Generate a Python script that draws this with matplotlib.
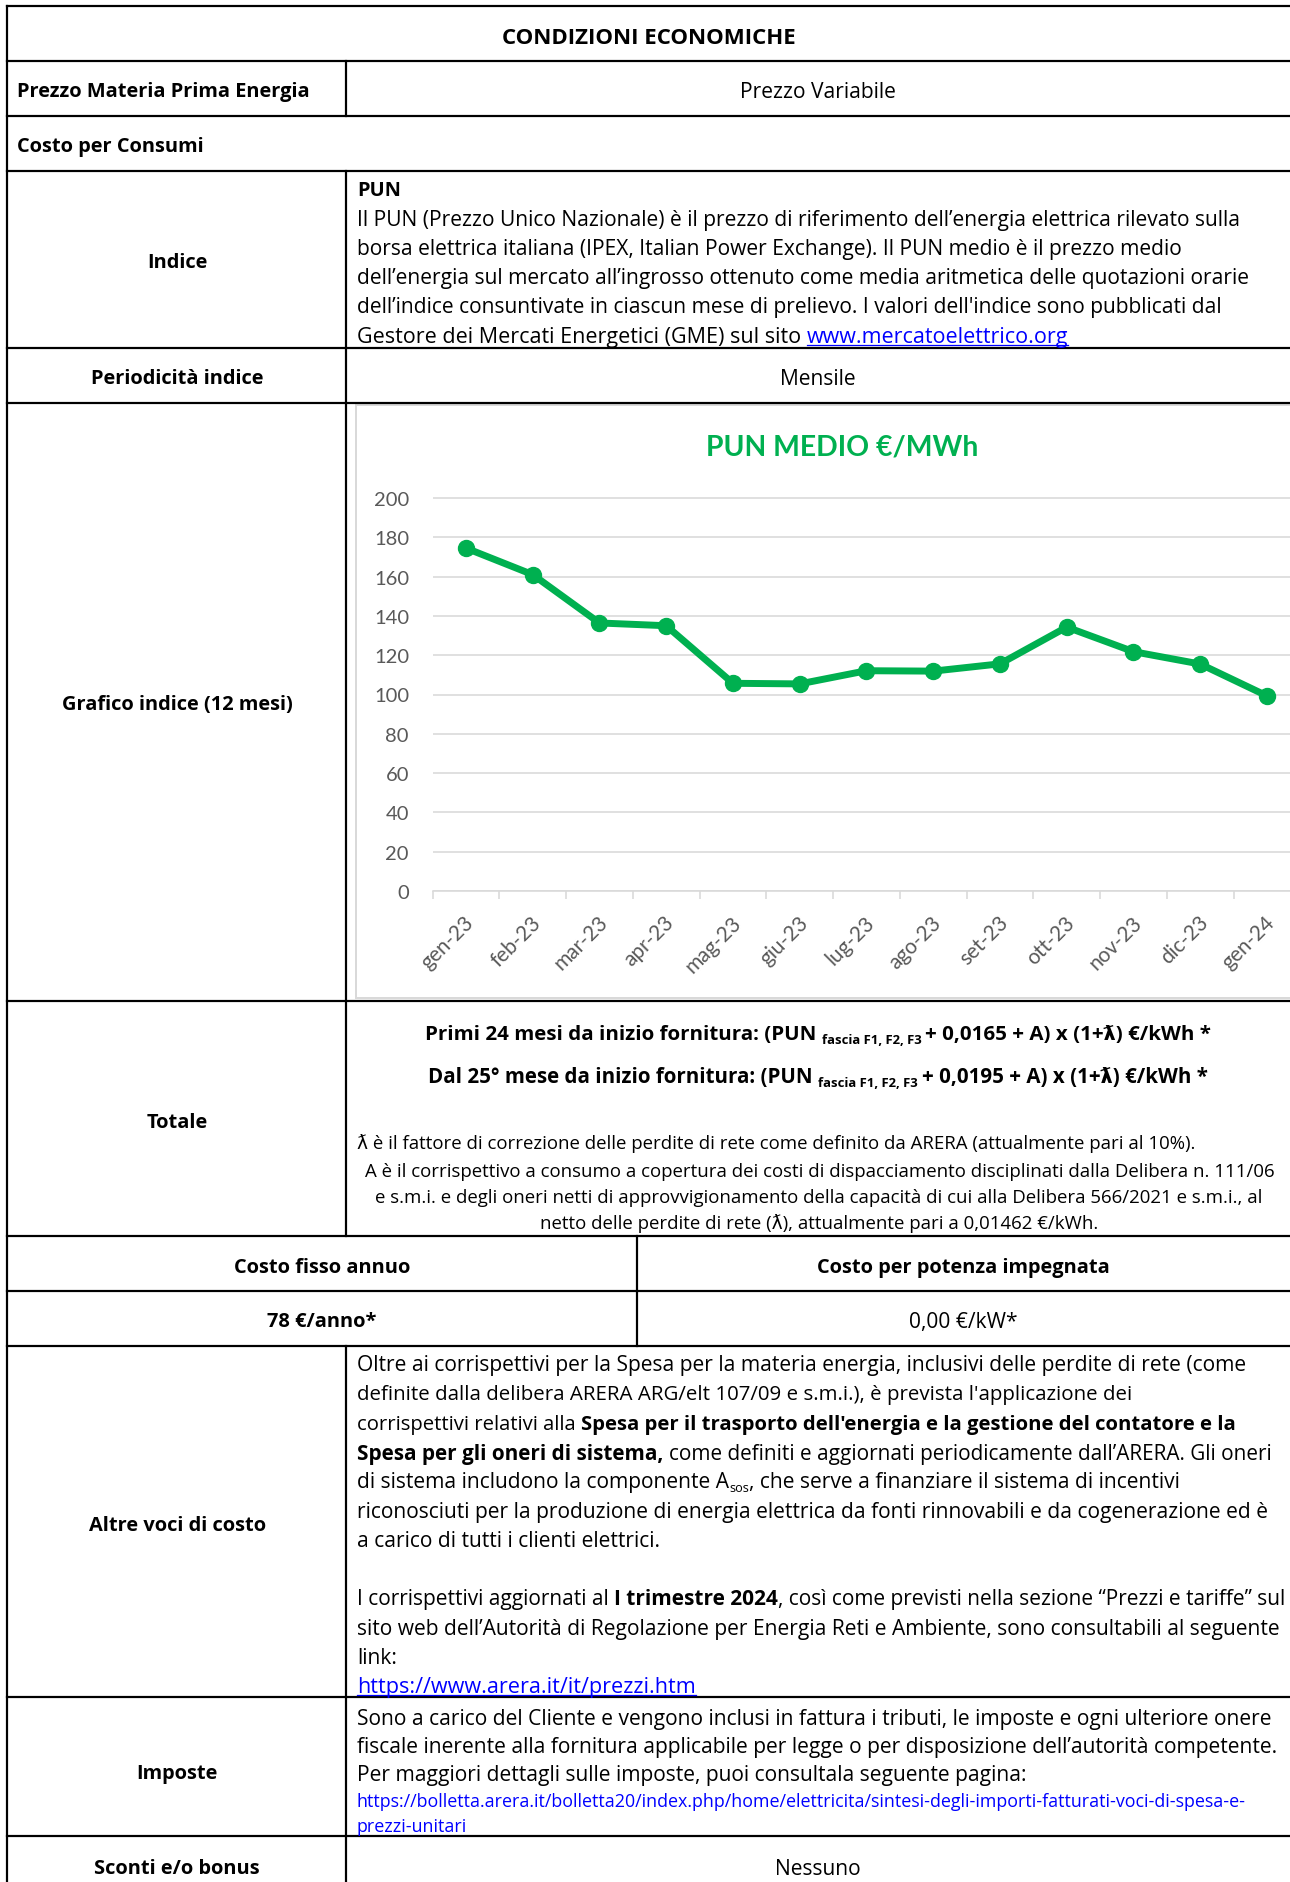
import matplotlib
matplotlib.use("Agg")
import matplotlib.pyplot as plt
import matplotlib.transforms as mtrans
from matplotlib import font_manager as fm
from matplotlib.patches import Rectangle
import numpy as np

# ---------------- data ----------------
months = ["gen-23", "feb-23", "mar-23", "apr-23", "mag-23", "giu-23", "lug-23",
          "ago-23", "set-23", "ott-23", "nov-23", "dic-23", "gen-24"]
pun_medio = [174.5, 161.0, 136.4, 135.0, 105.7, 105.4, 112.1, 111.9, 115.6,
             134.3, 121.8, 115.5, 99.3]
y_ticks = [0, 20, 40, 60, 80, 100, 120, 140, 160, 180, 200]
chart_title = "PUN MEDIO €/MWh"

# ---------------- figure ----------------
W, H = 1290, 1883
DPI = 100
fig = plt.figure(figsize=(W / DPI, H / DPI), dpi=DPI)
fig.patch.set_facecolor("white")
lay = fig.add_axes([0, 0, 1, 1])
lay.set_xlim(0, W)
lay.set_ylim(H, 0)
lay.axis("off")

names = {f.name for f in fm.fontManager.ttflist}
TF = "Liberation Sans Narrow" if "Liberation Sans Narrow" in names else "Open Sans"
FAM = [TF, "DejaVu Sans"]
CF = ["Lato", "DejaVu Sans"]

R = fig.canvas.get_renderer()


def tw(s, size, weight="normal", fam=None):
    fam = fam or FAM
    t = lay.text(0, 0, "x" + s + "x", fontsize=size, fontweight=weight, family=fam)
    w1 = t.get_window_extent(R).width
    t.set_text("xx")
    w2 = t.get_window_extent(R).width
    t.remove()
    return w1 - w2


def fit(s, width, weight="normal", fam=None):
    return 14.0 * width / tw(s, 14.0, weight, fam)


L1 = "Il PUN (Prezzo Unico Nazionale) è il prezzo di riferimento dell’energia elettrica rilevato sulla"
MAIN = fit(L1, 890)
LBL = fit("Prezzo Materia Prima Energia", 294, "bold")
TITLE = fit("CONDIZIONI ECONOMICHE", 296, "bold")
NOTE = fit("ƛ è il fattore di correzione delle perdite di rete come definito da ARERA (attualmente pari al 10%).", 843)
URL_S = "https://bolletta.arera.it/bolletta20/index.php/home/elettricita/sintesi-degli-importi-fatturati-voci-di-spesa-e-"
URLSZ = fit(URL_S, 890)
BLUE = "#0000FF"


def line(x, yc, parts, sz, align="left", width=None):
    items = []
    for p in parts:
        if isinstance(p, str):
            p = (p, {})
        items.append(p)

    def measure(scale):
        out = []
        for s, o in items:
            size = o.get("f", 1.0) * sz * scale
            wt = "bold" if o.get("b") else "normal"
            out.append((s, size, wt, o, tw(s, size, wt)))
        return out

    meas = measure(1.0)
    if width is not None:
        tot = sum(m[4] for m in meas)
        meas = measure(width / tot)
    total = sum(m[4] for m in meas)
    cx = x - total / 2 if align == "center" else x
    bl = yc + 0.36 * sz * DPI / 72
    for s, size, wt, o, w in meas:
        col = o.get("c", "black")
        lay.text(cx, bl + o.get("dy", 0), s, fontsize=size, fontweight=wt,
                 color=col, family=FAM, ha="left", va="baseline")
        if o.get("ul"):
            lay.plot([cx, cx + w], [bl + 3, bl + 3], color=col, lw=0.9)
        cx += w


def B(s, **k):
    d = {"b": True}
    d.update(k)
    return (s, d)


# ---------------- table borders ----------------
LW = 2.2 * 0.72
for y in [7, 62, 117, 172, 349, 404, 1002, 1237, 1292, 1347, 1698, 1837]:
    lay.plot([7, W + 5], [y, y], color="black", lw=LW, solid_capstyle="projecting")
lay.plot([7, 7], [7, H + 5], color="black", lw=LW, solid_capstyle="projecting")
for y0, y1 in [(62, 117), (172, 1237), (1347, H + 5)]:
    lay.plot([346, 346], [y0, y1], color="black", lw=LW, solid_capstyle="projecting")
lay.plot([637, 637], [1237, 1347], color="black", lw=LW, solid_capstyle="projecting")

# chart frame
lay.add_patch(Rectangle((356, 406), 1000, 593, facecolor="white",
                        edgecolor="#D9D9D9", lw=2.0 * 0.72, zorder=0.5))

# ---------------- table text ----------------
LC = 177   # label column center
VC = 818   # value column center
TX = 357   # value column left

line(649, 36, [B("CONDIZIONI ECONOMICHE")], TITLE, "center")
line(17, 90, [B("Prezzo Materia Prima Energia")], LBL)
line(VC, 90, ["Prezzo Variabile"], MAIN, "center")
line(17, 145, [B("Costo per Consumi")], LBL)

line(LC, 261, [B("Indice")], LBL, "center")
line(TX, 189, [B("PUN")], LBL)
indice_lines = [
    L1,
    "borsa elettrica italiana (IPEX, Italian Power Exchange). Il PUN medio è il prezzo medio",
    "dell’energia sul mercato all’ingrosso ottenuto come media aritmetica delle quotazioni orarie",
    "dell’indice consuntivate in ciascun mese di prelievo. I valori dell'indice sono pubblicati dal",
]
for i, s in enumerate(indice_lines):
    line(TX, 218 + 29.2 * i, [s], MAIN)
line(TX, 335, ["Gestore dei Mercati Energetici (GME) sul sito ",
               ("www.mercatoelettrico.org", {"c": BLUE, "ul": True})], MAIN, width=704)

line(LC, 377, [B("Periodicità indice")], LBL, "center")
line(VC, 377, ["Mensile"], MAIN, "center")

line(LC, 703, [B("Grafico indice (12 mesi)")], LBL, "center")

line(LC, 1121, [B("Totale")], LBL, "center")
line(VC, 1033, [B("Primi 24 mesi da inizio fornitura: (PUN "),
                B("fascia F1, F2, F3 ", f=0.64, dy=4),
                B("+ 0,0165 + A) x (1+ƛ) €/kWh *")], LBL, "center", width=786)
line(VC, 1076, [B("Dal 25° mese da inizio fornitura: (PUN "),
                B("fascia F1, F2, F3 ", f=0.64, dy=4),
                B("+ 0,0195 + A) x (1+ƛ) €/kWh *")], LBL, "center", width=782)
line(TX, 1142, ["ƛ è il fattore di correzione delle perdite di rete come definito da ARERA (attualmente pari al 10%)."], NOTE)
line(820, 1170, ["A è il corrispettivo a consumo a copertura dei costi di dispacciamento disciplinati dalla Delibera n. 111/06"], NOTE, "center")
line(819, 1196, ["e s.m.i. e degli oneri netti di approvvigionamento della capacità di cui alla Delibera 566/2021 e s.m.i., al"], NOTE, "center")
line(819, 1222, ["netto delle perdite di rete (ƛ), attualmente pari a 0,01462 €/kWh."], NOTE, "center")

line(322, 1266, [B("Costo fisso annuo")], LBL, "center")
line(963, 1266, [B("Costo per potenza impegnata")], LBL, "center")
line(322, 1320, [B("78 €/anno*")], LBL, "center")
line(963, 1320, ["0,00 €/kW*"], MAIN, "center")

line(LC, 1524, [B("Altre voci di costo")], LBL, "center")
altre = [
    (1363, ["Oltre ai corrispettivi per la Spesa per la materia energia, inclusivi delle perdite di rete (come"], None),
    (1392, ["definite dalla delibera ARERA ARG/elt 107/09 e s.m.i.), è prevista l'applicazione dei"], 770),
    (1422, ["corrispettivi relativi alla ", B("Spesa per il trasporto dell'energia e la gestione del contatore e la")], 880),
    (1452, [B("Spesa per gli oneri di sistema, "), "come definiti e aggiornati periodicamente dall’ARERA. Gli oneri"], 915),
    (1480, ["di sistema includono la componente A", ("sos", {"f": 0.6, "dy": 4}),
            ", che serve a finanziare il sistema di incentivi"], None),
    (1510, ["riconosciuti per la produzione di energia elettrica da fonti rinnovabili e da cogenerazione ed è"], None),
    (1539, ["a carico di tutti i clienti elettrici."], None),
    (1597, ["I corrispettivi aggiornati al ", B("I trimestre 2024"),
            ", così come previsti nella sezione “Prezzi e tariffe” sul"], 926),
    (1627, ["sito web dell’Autorità di Regolazione per Energia Reti e Ambiente, sono consultabili al seguente"], None),
    (1656, ["link:"], None),
    (1685, [("https://www.arera.it/it/prezzi.htm", {"c": BLUE, "ul": True})], 337),
]
for yc, parts, wd in altre:
    line(TX, yc, parts, MAIN, width=wd)

line(LC, 1772, [B("Imposte")], LBL, "center")
line(TX, 1717, ["Sono a carico del Cliente e vengono inclusi in fattura i tributi, le imposte e ogni ulteriore onere"], MAIN)
line(TX, 1745, ["fiscale inerente alla fornitura applicabile per legge o per disposizione dell’autorità competente."], MAIN)
line(TX, 1773, ["Per maggiori dettagli sulle imposte, puoi consultala seguente pagina:"], MAIN)
line(TX, 1801, [(URL_S, {"c": BLUE})], URLSZ)
line(TX, 1826, [("prezzi-unitari", {"c": BLUE})], URLSZ)

line(LC, 1867, [B("Sconti e/o bonus")], LBL, "center")
line(VC, 1867, ["Nessuno"], MAIN, "center")

# ---------------- chart ----------------
X_LEFT = 432.6
STEP = 66.75
Y0 = 892.0
PX_PER_UNIT = (892.0 - 499.0) / 200.0
YTOP = 204
ax_x0 = X_LEFT
ax_x1 = X_LEFT + STEP * len(months)
ax_y_top = Y0 - YTOP * PX_PER_UNIT
ax = fig.add_axes([ax_x0 / W, 1 - Y0 / H, (ax_x1 - ax_x0) / W, (Y0 - ax_y_top) / H])
ax.set_facecolor("none")
ax.set_xlim(-0.5, len(months) - 0.5)
ax.set_ylim(0, YTOP)

GRID = "#D9D9D9"
TICKC = "#595959"
ax.set_yticks(y_ticks)
ax.yaxis.grid(True, color=GRID, lw=1.6 * 0.72)
ax.set_axisbelow(True)
for sp in ["top", "right", "left"]:
    ax.spines[sp].set_visible(False)
ax.spines["bottom"].set_color(GRID)
ax.spines["bottom"].set_linewidth(1.6 * 0.72)

xpos = np.arange(len(months))
ax.set_xticks(xpos)
ax.set_xticklabels(months)
ax.set_xticks(np.arange(len(months) + 1) - 0.5, minor=True)
ax.tick_params(axis="x", which="major", length=0, pad=20, labelsize=15, labelcolor=TICKC)
ax.tick_params(axis="x", which="minor", length=6, width=1.6 * 0.72, color=GRID)
ax.tick_params(axis="y", length=0, pad=17, labelsize=14.5, labelcolor=TICKC)
off = mtrans.ScaledTranslation(5 / DPI, 0, fig.dpi_scale_trans)
for lab in ax.get_xticklabels():
    lab.set_rotation(45)
    lab.set_ha("right")
    lab.set_va("center")
    lab.set_rotation_mode("anchor")
    lab.set_family(CF)
    lab.set_transform(lab.get_transform() + off)
for lab in ax.get_yticklabels():
    lab.set_family(CF)

ax.plot(xpos, pun_medio, color="#00B050", lw=5.0, marker="o", ms=11.5,
        mfc="#00B050", mec="#00B050", solid_joinstyle="round", clip_on=False, zorder=3)

tsz = fit(chart_title, 275, "bold", CF)
lay.text(842, 447, chart_title, fontsize=tsz, fontweight="bold", color="#00B050",
         family=CF, ha="center", va="center")

fig.savefig("out.png", dpi=DPI, facecolor="white")
